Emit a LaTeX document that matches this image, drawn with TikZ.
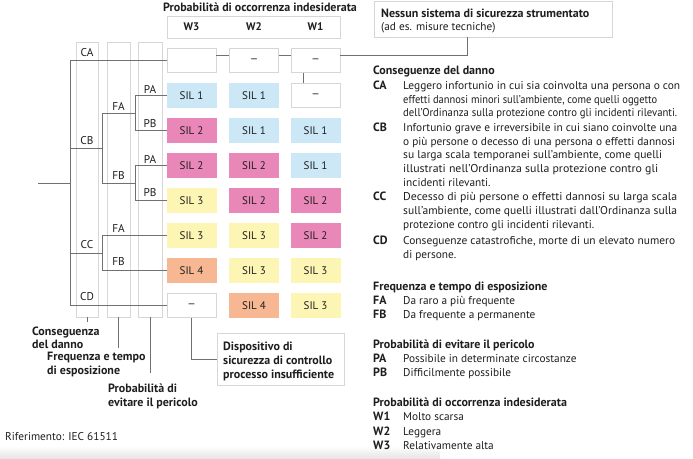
\documentclass[tikz,border=0pt]{standalone}
\usepackage{graphicx}
\usepackage{fontspec}
\setmainfont{PT Sans}
\definecolor{silA}{HTML}{CCE7F6}
\definecolor{silB}{HTML}{E987B8}
\definecolor{silC}{HTML}{FCF5B4}
\definecolor{silD}{HTML}{F6B792}
\definecolor{bordergray}{HTML}{D6D6D6}
\definecolor{linegray}{HTML}{707070}
\definecolor{textcol}{HTML}{1E1E1E}
\newcommand\fitw[2]{\resizebox{#1}{\height}{#2}}
\newcommand\cdash{\resizebox{9pt}{\height}{–}}
\begin{document}
\begin{tikzpicture}[x=1pt,y=-1pt,
  txt/.style={font=\fontsize{11.3}{13}\selectfont, text=textcol, inner sep=0pt},
  btxt/.style={font=\fontsize{12}{14}\selectfont\bfseries, text=textcol, inner sep=0pt},
  ln/.style={txt, anchor=base west},
  bln/.style={btxt, anchor=base west},
  cell/.style={draw=bordergray, line width=0.6pt, fill=white, minimum width=49pt, minimum height=24pt,
    font=\fontsize{11}{13}\selectfont, text=textcol, inner sep=0pt},
  silone/.style={cell, fill=silA, draw=silA},
  siltwo/.style={cell, fill=silB, draw=silB},
  silthree/.style={cell, fill=silC, draw=silC},
  silfour/.style={cell, fill=silD, draw=silD},
  strip/.style={draw=bordergray, line width=0.6pt, fill=white, inner sep=0pt},
  frame/.style={draw=bordergray, line width=0.6pt, fill=white, inner sep=0pt},
  conn/.style={draw=linegray, line width=0.7pt},
  whead/.style={font=\fontsize{11}{13}\selectfont\bfseries, text=textcol, inner sep=0pt},
]
\useasboundingbox (0,0) rectangle (693,458);
\shade[top color=white, bottom color=black!10] (0,446) rectangle (440,458);

% title and header
\node[btxt] (title) at (260,7.5) {Probabilità di occorrenza indesiderata};
\node[frame, minimum width=173pt, minimum height=22pt] (head) at (253.5,27) {};
\node[whead] (hW3) at (191.5,27) {W3};
\node[whead] (hW2) at (254,27) {W2};
\node[whead] (hW1) at (315.5,27) {W1};

% strips
\node[strip, minimum width=22pt, minimum height=275pt] (stripC) at (87,179.5) {};
\node[strip, minimum width=23pt, minimum height=275pt] (stripF) at (118.5,179.5) {};
\node[strip, minimum width=24pt, minimum height=275pt] (stripP) at (150,179.5) {};

% cells
\node[cell]      (c11) at (191.5,60.5) {};
\node[cell]      (c12) at (254,60.5) {\cdash};
\node[cell]      (c13) at (315.5,60.5) {\cdash};
\node[silone]    (c21) at (191.5,95.5) {SIL 1};
\node[silone]    (c22) at (254,95.5) {SIL 1};
\node[cell]      (c23) at (315.5,95.5) {\cdash};
\node[siltwo]    (c31) at (191.5,130.5) {SIL 2};
\node[silone]    (c32) at (254,130.5) {SIL 1};
\node[silone]    (c33) at (315.5,130.5) {SIL 1};
\node[siltwo]    (c41) at (191.5,165.5) {SIL 2};
\node[siltwo]    (c42) at (254,165.5) {SIL 2};
\node[silone]    (c43) at (315.5,165.5) {SIL 1};
\node[silthree]  (c51) at (191.5,200.5) {SIL 3};
\node[siltwo]    (c52) at (254,200.5) {SIL 2};
\node[siltwo]    (c53) at (315.5,200.5) {SIL 2};
\node[silthree]  (c61) at (191.5,235.5) {SIL 3};
\node[silthree]  (c62) at (254,235.5) {SIL 3};
\node[siltwo]    (c63) at (315.5,235.5) {SIL 2};
\node[silfour]   (c71) at (191.5,270.5) {SIL 4};
\node[silthree]  (c72) at (254,270.5) {SIL 3};
\node[silthree]  (c73) at (315.5,270.5) {SIL 3};
\node[cell]      (c81) at (191.5,305.5) {\cdash};
\node[silfour]   (c82) at (254,305.5) {SIL 4};
\node[silthree]  (c83) at (315.5,305.5) {SIL 3};

% tree
\coordinate (root) at (38,183);
\coordinate (j0) at (70,183);
\coordinate (jB) at (102,148);
\coordinate (jBA) at (135,113);
\coordinate (jBB) at (135,183);
\coordinate (jC) at (102,253);
\draw[conn] (root) -- (j0);
\draw[conn] (c11.west -| j0) -- (c81.west -| j0);
\draw[conn] (c11.west -| j0) -- (c11.west);
\draw[conn] (c81.west -| j0) -- (c81.west);
\draw[conn] (jB -| j0) -- (jB);
\draw[conn] (jBA -| jB) -- (jBB -| jB);
\draw[conn] (jBA -| jB) -- (jBA);
\draw[conn] (jBB -| jB) -- (jBB);
\draw[conn] (c21.west -| jBA) -- (c31.west -| jBA);
\draw[conn] (c21.west -| jBA) -- (c21.west);
\draw[conn] (c31.west -| jBA) -- (c31.west);
\draw[conn] (c41.west -| jBB) -- (c51.west -| jBB);
\draw[conn] (c41.west -| jBB) -- (c41.west);
\draw[conn] (c51.west -| jBB) -- (c51.west);
\draw[conn] (jC -| j0) -- (jC);
\draw[conn] (c61.west -| jC) -- (c71.west -| jC);
\draw[conn] (c61.west -| jC) -- (c61.west);
\draw[conn] (c71.west -| jC) -- (c71.west);

% tree labels
\node[txt] (lCA) at (87,53) {CA};
\node[txt] (lCB) at (87,141) {CB};
\node[txt] (lCC) at (87,245) {CC};
\node[txt] (lCD) at (87,297) {CD};
\node[txt] (lFA1) at (118.5,106) {FA};
\node[txt] (lFB1) at (118.5,176) {FB};
\node[txt] (lFA2) at (118.5,228) {FA};
\node[txt] (lFB2) at (118.5,262) {FB};
\node[txt] (lPA1) at (150,89) {PA};
\node[txt] (lPB1) at (150,124) {PB};
\node[txt] (lPA2) at (150,159) {PA};
\node[txt] (lPB2) at (150,193) {PB};

% no-SIS box
\node[frame, minimum width=238pt, minimum height=36pt] (nessun) at (493,19) {};
\node[bln] (n1) at (381,17.5) {Nessun sistema di sicurezza strumentato};
\node[ln]  (n2) at (381,30) {(ad es. misure tecniche)};
\coordinate (thr) at (467,55);
\draw[conn] (c11.east |- thr) -- (c12.west |- thr);
\draw[conn] (c12.east |- thr) -- (c13.west |- thr);
\draw[conn] (c13.east |- thr) -- (thr) -- (thr |- nessun.south);
\draw[conn] ([xshift=-12.5pt]c13.south) -- ([xshift=-12.5pt]c23.north);

% bottom ticks and labels
\coordinate (tC) at (87,322);
\coordinate (tF) at (118.5,348);
\coordinate (tP) at (150,373);
\draw[conn] (stripC.south) -- (tC);
\draw[conn] (stripF.south) -- (tF);
\draw[conn] (stripP.south) -- (tP);
\node[bln] (bC1) at (32,335.5) {Conseguenza};
\node[bln] (bC2) at (32,348.5) {del danno};
\node[bln] (bF1) at (47,360.5) {Frequenza e tempo};
\node[bln] (bF2) at (47,374) {di esposizione};
\node[bln] (bP1) at (108,392.5) {Probabilità di};
\node[bln] (bP2) at (108,406) {evitare il pericolo};

\node[frame, minimum width=127pt, minimum height=52pt] (disp) at (280.5,359) {};
\draw[conn] (c81.south) |- (disp.west);
\node[bln] (d1) at (223,350.5) {Dispositivo di};
\node[bln] (d2) at (223,364.5) {sicurezza di controllo};
\node[bln] (d3) at (223,378.5) {processo insufficiente};

\node[ln] (ref) at (5,440.5) {Riferimento: IEC 61511};

% legend
\node[bln] (hC) at (373,74) {Conseguenze del danno};
\node[bln] (kCA) at (373,89.5) {CA};
\node[ln] (tCA1) at (403,89.5) {\fitw{277pt}{Leggero infortunio in cui sia coinvolta una persona o con}};
\node[ln] (tCA2) at (403,103) {\fitw{254pt}{effetti dannosi minori sull'ambiente, come quelli oggetto}};
\node[ln] (tCA3) at (403,116.5) {\fitw{274pt}{dell'Ordinanza sulla protezione contro gli incidenti rilevanti.}};
\node[bln] (kCB) at (373,131) {CB};
\node[ln] (tCB1) at (403,131) {\fitw{274pt}{Infortunio grave e irreversibile in cui siano coinvolte una}};
\node[ln] (tCB2) at (403,145) {\fitw{272pt}{o più persone o decesso di una persona o effetti dannosi}};
\node[ln] (tCB3) at (403,158.5) {\fitw{259pt}{su larga scala temporanei sull'ambiente, come quelli}};
\node[ln] (tCB4) at (403,172.5) {\fitw{255pt}{illustrati nell'Ordinanza sulla protezione contro gli}};
\node[ln] (tCB5) at (403,186.5) {incidenti rilevanti.};
\node[bln] (kCC) at (373,200.5) {CC};
\node[ln] (tCC1) at (403,200.5) {\fitw{274pt}{Decesso di più persone o effetti dannosi su larga scala}};
\node[ln] (tCC2) at (403,214.5) {\fitw{274pt}{sull'ambiente, come quelli illustrati dall'Ordinanza sulla}};
\node[ln] (tCC3) at (403,228.5) {protezione contro gli incidenti rilevanti.};
\node[bln] (kCD) at (373,244) {CD};
\node[ln] (tCD1) at (403,244) {\fitw{272pt}{Conseguenze catastrofiche, morte di un elevato numero}};
\node[ln] (tCD2) at (403,258) {di persone.};

\node[bln] (hF) at (373,290) {Frequenza e tempo di esposizione};
\node[bln] (kFA) at (373,304.5) {FA};
\node[ln] (tFA) at (403,304.5) {Da raro a più frequente};
\node[bln] (kFB) at (373,318.5) {FB};
\node[ln] (tFB) at (403,318.5) {Da frequente a permanente};

\node[bln] (hP) at (373,348.5) {Probabilità di evitare il pericolo};
\node[bln] (kPA) at (373,362) {PA};
\node[ln] (tPA) at (403,362) {Possibile in determinate circostanze};
\node[bln] (kPB) at (373,376.5) {PB};
\node[ln] (tPB) at (403,376.5) {Difficilmente possibile};

\node[bln] (hW) at (373,406.5) {Probabilità di occorrenza indesiderata};
\node[bln] (kW1) at (373,420.5) {W1};
\node[ln] (tW1) at (403,420.5) {Molto scarsa};
\node[bln] (kW2) at (373,435) {W2};
\node[ln] (tW2) at (403,435) {Leggera};
\node[bln] (kW3) at (373,449) {W3};
\node[ln] (tW3) at (403,449) {Relativamente alta};
\end{tikzpicture}
\end{document}
